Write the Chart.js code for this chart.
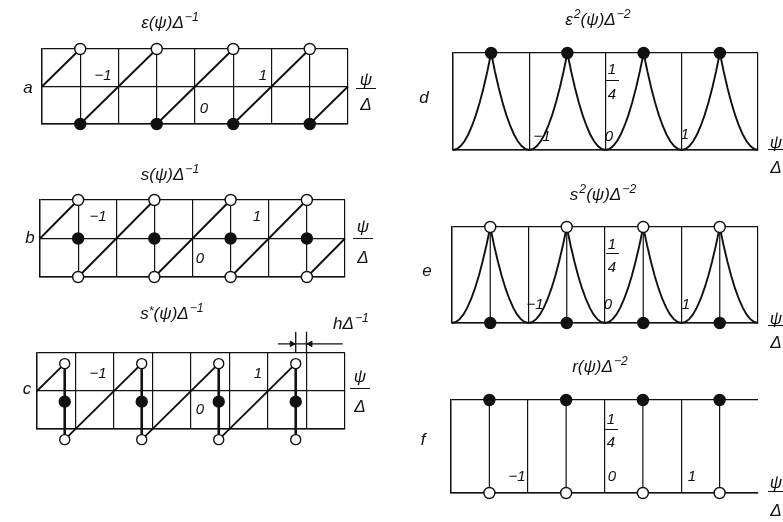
<!DOCTYPE html>
<html><head><meta charset="utf-8">
<script src="https://cdn.jsdelivr.net/npm/chart.js@4/dist/chart.umd.min.js"></script>
<style>
html,body{margin:0;padding:0;background:#fff;}
body{width:783px;height:522px;position:relative;overflow:hidden;font-family:"Liberation Sans","DejaVu Sans",sans-serif;font-style:italic;color:#111;}
canvas{position:absolute;}
.t{position:absolute;white-space:nowrap;transform:translate(-50%,-50%);line-height:1;}
.t sup{font-size:72%;position:relative;top:-0.55em;vertical-align:baseline;margin-left:1px;}
.bar{position:absolute;height:0;border-top:1.4px solid #111;}
</style></head><body>
<script>
// ---------- data ----------
// panels a, b: quantisation error / s(psi), sawtooth, unit = Delta
const psiSaw   = [-2, -1.5, null, -1.5, -0.5, null, -0.5, 0.5, null, 0.5, 1.5, null, 1.5, 2];
const epsSaw   = [0, 0.5, null, -0.5, 0.5, null, -0.5, 0.5, null, -0.5, 0.5, null, -0.5, 0];
const jumpPsi  = [-1.5, -0.5, 0.5, 1.5];
const epsOpen  = [0.5, 0.5, 0.5, 0.5];
const epsDots  = [-0.5, -0.5, -0.5, -0.5];
const sOpenTop = [0.5, 0.5, 0.5, 0.5];
const sDots    = [0, 0, 0, 0];
const sOpenBot = [-0.5, -0.5, -0.5, -0.5];
// panel c: s*(psi), jumps shifted by h
const psiStar      = [-2, -1.64, null, -1.64, -0.64, null, -0.64, 0.36, null, 0.36, 1.36];
const sStarSaw     = [0, 0.36, null, -0.64, 0.36, null, -0.64, 0.36, null, -0.64, 0.36];
const jumpPsiStar  = [-1.64, -0.64, 0.36, 1.36];
const sStarOpenTop = [0.36, 0.36, 0.36, 0.36];
const sStarDots    = [-0.14, -0.14, -0.14, -0.14];
const sStarOpenBot = [-0.64, -0.64, -0.64, -0.64];
const hMarkPsi     = [1.36, 1.5];
const hLinePsi     = [1.13, 1.97];
const hArrowPsi    = [1.31, 1.55];
// panels d, e: squared error, unit = Delta^2
const psiFine = [-2,-1.95,-1.9,-1.85,-1.8,-1.75,-1.7,-1.65,-1.6,-1.55,-1.5,-1.45,-1.4,-1.35,-1.3,-1.25,-1.2,-1.15,-1.1,-1.05,
  -1,-0.95,-0.9,-0.85,-0.8,-0.75,-0.7,-0.65,-0.6,-0.55,-0.5,-0.45,-0.4,-0.35,-0.3,-0.25,-0.2,-0.15,-0.1,-0.05,
  0,0.05,0.1,0.15,0.2,0.25,0.3,0.35,0.4,0.45,0.5,0.55,0.6,0.65,0.7,0.75,0.8,0.85,0.9,0.95,
  1,1.05,1.1,1.15,1.2,1.25,1.3,1.35,1.4,1.45,1.5,1.55,1.6,1.65,1.7,1.75,1.8,1.85,1.9,1.95,2];
const eps2Curve = [0,0.0025,0.01,0.0225,0.04,0.0625,0.09,0.1225,0.16,0.2025,0.25,0.2025,0.16,0.1225,0.09,0.0625,0.04,0.0225,0.01,0.0025,
  0,0.0025,0.01,0.0225,0.04,0.0625,0.09,0.1225,0.16,0.2025,0.25,0.2025,0.16,0.1225,0.09,0.0625,0.04,0.0225,0.01,0.0025,
  0,0.0025,0.01,0.0225,0.04,0.0625,0.09,0.1225,0.16,0.2025,0.25,0.2025,0.16,0.1225,0.09,0.0625,0.04,0.0225,0.01,0.0025,
  0,0.0025,0.01,0.0225,0.04,0.0625,0.09,0.1225,0.16,0.2025,0.25,0.2025,0.16,0.1225,0.09,0.0625,0.04,0.0225,0.01,0.0025,0];
const peakPsi   = [-1.5, -0.5, 0.5, 1.5];
const eps2Peaks = [0.25, 0.25, 0.25, 0.25];
const s2Open    = [0.25, 0.25, 0.25, 0.25];
const s2Dots    = [0, 0, 0, 0];
const rDots     = [0.25, 0.25, 0.25, 0.25];
const rOpen     = [0, 0, 0, 0];
const tickPsi    = [-1, 0, 1];
const tickLabels = ['\u22121', '0', '1'];

// ---------- helpers ----------
const INK = '#111';
function pts(xs, ys){ return xs.map((x,i)=> (x===null||ys[i]===null) ? {x:null,y:null} : {x:x, y:ys[i]}); }
function stems(xs, y0s, y1s){ const out=[]; xs.forEach((x,i)=>{ out.push({x:x,y:y0s[i]},{x:x,y:y1s[i]},{x:null,y:null}); }); return out; }
function lineDs(data, w, order){ return {data:data, showLine:true, spanGaps:false, borderColor:INK, borderWidth:w, pointRadius:0, clip:false, order:order, tension:0}; }
function dotDs(xs, ys, filled, r){ return {data:pts(xs,ys), showLine:false, pointRadius:r, pointBorderWidth:1.4,
  pointBorderColor:INK, pointBackgroundColor: filled?INK:'#fff', clip:false, order:0, outside:true}; }

// points that sit just outside the plot frame are drawn by the library's own point elements, without the in-area test
const outsidePoints = {
  id:'outsidePoints',
  beforeDatasetDraw(chart, args){
    const ds = chart.data.datasets[args.index];
    if (!ds.outside) return;
    const big = {left:-1e5, top:-1e5, right:1e5, bottom:1e5};
    args.meta.data.forEach(el => { if (!el.skip) el.draw(chart.ctx, big); });
    return false;
  }
};

function panel(box, yMin, yMax, xStep, yStep, datasets, hideRight){
  const pad = 26;
  const c = document.createElement('canvas');
  const w = box.r - box.l + 2*pad, h = box.b - box.t + 2*pad;
  c.width = w; c.height = h;
  c.style.left = (box.l - pad)+'px'; c.style.top = (box.t - pad)+'px';
  c.style.width = w+'px'; c.style.height = h+'px';
  document.body.appendChild(c);
  new Chart(c, {type:'scatter', data:{datasets:datasets}, plugins:[outsidePoints], options:{
    responsive:false, animation:false, events:[], devicePixelRatio:1,
    layout:{padding:pad},
    plugins:{legend:{display:false}, tooltip:{enabled:false}},
    scales:{
      x:{type:'linear', min:-2, max:2, ticks:{display:false, stepSize:xStep},
         grid:{drawTicks:false, lineWidth:1.2, color:(ctx)=> (hideRight && ctx.tick && ctx.tick.value===2) ? 'rgba(0,0,0,0)' : INK},
         border:{display:true, color:INK, width:1.4}},
      y:{type:'linear', min:yMin, max:yMax, ticks:{display:false, stepSize:yStep},
         grid:{drawTicks:false, lineWidth:1.2, color:INK},
         border:{display:true, color:INK, width:1.4}}
    }
  }});
}

function txt(html, x, y, size){
  const s = document.createElement('div'); s.className='t'; s.innerHTML=html;
  s.style.left=x+'px'; s.style.top=y+'px'; s.style.fontSize=size+'px';
  document.body.appendChild(s);
}
function frac(top, bot, x, yTop, yBar, yBot, barW, size){
  txt(top, x, yTop, size); txt(bot, x, yBot, size);
  const b = document.createElement('div'); b.className='bar';
  b.style.left=(x-barW/2)+'px'; b.style.top=yBar+'px'; b.style.width=barW+'px';
  document.body.appendChild(b);
}

// ---------- panels ----------
const boxA = {l:42, r:348, t:49, b:124};
const boxB = {l:40, r:345, t:200, b:277};
const boxC = {l:37, r:345, t:353, b:429};
const boxD = {l:453, r:758, t:53, b:150};
const boxE = {l:452, r:758, t:227, b:323};
const boxF = {l:451, r:758, t:400, b:493};

panel(boxA, -0.5, 0.5, 0.5, 0.5, [
  dotDs(jumpPsi, epsOpen, false, 5.5),
  dotDs(jumpPsi, epsDots, true, 5.5),
  lineDs(pts(psiSaw, epsSaw), 1.9, 1)
]);
panel(boxB, -0.5, 0.5, 0.5, 0.5, [
  dotDs(jumpPsi, sOpenTop, false, 5.5),
  dotDs(jumpPsi, sOpenBot, false, 5.5),
  dotDs(jumpPsi, sDots, true, 5.5),
  lineDs(pts(psiSaw, epsSaw), 1.9, 1)
]);
panel(boxC, -0.5, 0.5, 0.5, 0.5, [
  dotDs(jumpPsiStar, sStarOpenTop, false, 5),
  dotDs(jumpPsiStar, sStarOpenBot, false, 5),
  dotDs(jumpPsiStar, sStarDots, true, 5.5),
  {data:pts(hArrowPsi, [0.62,0.62]), showLine:false, pointStyle:'triangle', pointRotation:[90,-90],
   pointRadius:3.2, pointBorderWidth:1, pointBackgroundColor:INK, pointBorderColor:INK, clip:false, order:0, outside:true},
  lineDs(pts(psiStar, sStarSaw), 1.9, 1),
  lineDs(stems(jumpPsiStar, sStarOpenTop, sStarOpenBot), 2.6, 2),
  lineDs(stems(hMarkPsi, [0.5,0.5], [0.78,0.78]), 1.3, 2),
  lineDs(pts(hLinePsi, [0.62,0.62]), 1.3, 2)
]);
panel(boxD, 0, 0.25, 1, 0.25, [
  dotDs(peakPsi, eps2Peaks, true, 5.5),
  lineDs(pts(psiFine, eps2Curve), 1.9, 1)
]);
panel(boxE, 0, 0.25, 1, 0.25, [
  dotDs(peakPsi, s2Open, false, 5.5),
  dotDs(peakPsi, s2Dots, true, 5.5),
  lineDs(pts(psiFine, eps2Curve), 1.9, 1),
  lineDs(stems(peakPsi, s2Open, s2Dots), 1.2, 2)
]);
panel(boxF, 0, 0.25, 1, 0.25, [
  dotDs(peakPsi, rDots, true, 5.5),
  dotDs(peakPsi, rOpen, false, 5.5),
  lineDs(stems(peakPsi, rDots, rOpen), 1.2, 2)
], true);

// ---------- text ----------
txt('\u03b5(\u03c8)\u0394<sup>\u22121</sup>', 170, 22, 17);
txt('s(\u03c8)\u0394<sup>\u22121</sup>', 170, 174, 17);
txt('s<sup style="top:-0.35em;margin-left:0">*</sup>(\u03c8)\u0394<sup>\u22121</sup>', 172, 313, 17);
txt('h\u0394<sup>\u22121</sup>', 351, 323, 17);
txt('\u03b5<sup>2</sup>(\u03c8)\u0394<sup>\u22122</sup>', 598, 19, 17);
txt('s<sup>2</sup>(\u03c8)\u0394<sup>\u22122</sup>', 603, 194, 17);
txt('r(\u03c8)\u0394<sup>\u22122</sup>', 600, 366, 17);

txt('a', 28, 87, 17); txt('b', 30, 237, 17); txt('c', 27, 388, 17);
txt('d', 424, 97, 17); txt('e', 427, 270, 17); txt('f', 423, 439, 17);

// tick numbers (psi/Delta = -1, 0, 1)
const tickPosA = [[103,74],[204,107],[263,74]];
const tickPosB = [[98,215],[200,257],[257,215]];
const tickPosC = [[98,372],[200,408],[258,372]];
const tickPosD = [[542,135],[609,135],[685,133]];
const tickPosE = [[535,303],[608,303],[686,303]];
const tickPosF = [[517,475],[612,475],[692,475]];
[tickPosA,tickPosB,tickPosC,tickPosD,tickPosE,tickPosF].forEach(arr=>{
  tickPsi.forEach((v,i)=>{ txt(tickLabels[i], arr[i][0], arr[i][1], 15); });
});

// 1/4 labels
frac('1','4', 612, 68, 80, 93, 13, 15);
frac('1','4', 612, 243, 253, 266, 13, 15);
frac('1','4', 611, 418, 429, 441, 13, 15);

// psi / Delta axis names
frac('\u03c8','\u0394', 366, 79, 88, 104, 20, 17);
frac('\u03c8','\u0394', 363, 226, 238, 257, 20, 17);
frac('\u03c8','\u0394', 360, 376, 388, 406, 20, 17);
frac('\u03c8','\u0394', 776, 142, 149, 167, 16, 17);
frac('\u03c8','\u0394', 776, 318, 325, 342, 16, 17);
frac('\u03c8','\u0394', 776, 482, 491, 510, 16, 17);
</script>
</body></html>
